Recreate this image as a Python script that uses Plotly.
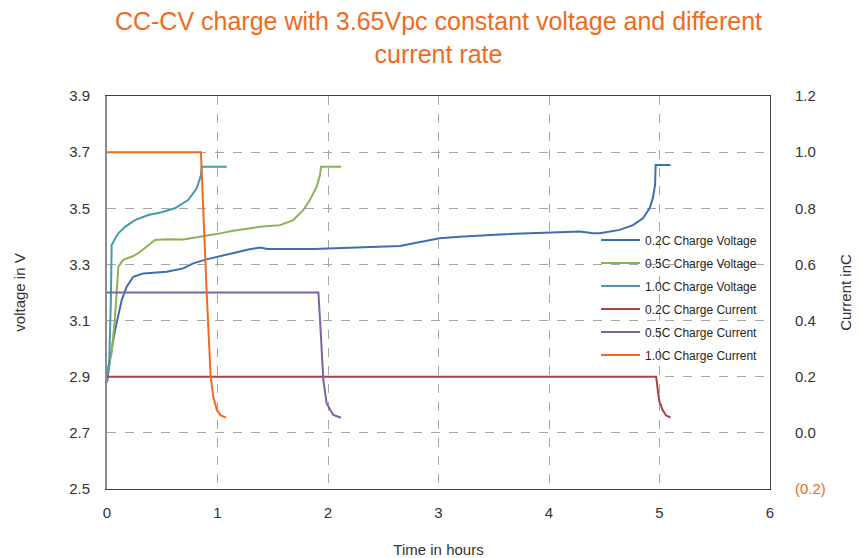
import plotly.graph_objects as go

# ---------------- data ----------------
# Voltage curves (time in hours, voltage in V)
t_v02 = [0, 0.03, 0.07, 0.10, 0.133, 0.178, 0.238, 0.329, 0.54, 0.69, 0.78, 0.90, 1.08, 1.29, 1.39, 1.45,
         1.87, 2.47, 2.65, 3.01, 3.19, 3.56, 4.01, 4.28, 4.40, 4.46, 4.64, 4.76, 4.85, 4.91, 4.94, 4.96, 4.965, 5.10]
v_02 = [2.88, 2.97, 3.06, 3.12, 3.173, 3.221, 3.256, 3.268, 3.274, 3.286, 3.304, 3.318, 3.334, 3.354, 3.360, 3.355,
        3.355, 3.363, 3.366, 3.393, 3.399, 3.407, 3.414, 3.417, 3.411, 3.411, 3.423, 3.440, 3.464, 3.500, 3.536, 3.583,
        3.654, 3.654]

t_v05 = [0, 0.04, 0.07, 0.081, 0.103, 0.148, 0.238, 0.283, 0.358, 0.434, 0.54, 0.69, 0.84, 0.99, 1.143, 1.29, 1.385,
         1.566, 1.686, 1.777, 1.837, 1.898, 1.928, 1.937, 2.118]
v_05 = [2.92, 2.98, 3.10, 3.173, 3.292, 3.316, 3.330, 3.340, 3.363, 3.387, 3.390, 3.389, 3.399, 3.408, 3.420, 3.429,
        3.434, 3.440, 3.458, 3.494, 3.530, 3.577, 3.619, 3.648, 3.648]

t_v10 = [0, 0.02, 0.035, 0.042, 0.07, 0.102, 0.163, 0.253, 0.374, 0.494, 0.615, 0.736, 0.812, 0.851, 0.857, 1.083]
v_10 = [2.88, 2.95, 3.17, 3.369, 3.390, 3.411, 3.434, 3.458, 3.476, 3.486, 3.500, 3.530, 3.571, 3.619, 3.648, 3.648]

# Current curves (time in hours, current in C)
t_c02 = [0, 4.97, 4.985, 5.0, 5.03, 5.06, 5.10]
c_02 = [0.2, 0.2, 0.15, 0.11, 0.08, 0.062, 0.054]

t_c05 = [0, 1.913, 1.928, 1.943, 1.958, 1.988, 2.048, 2.118]
c_05 = [0.5, 0.5, 0.402, 0.271, 0.188, 0.105, 0.064, 0.054]

t_c10 = [0, 0.85, 0.902, 0.938, 0.962, 0.993, 1.03, 1.077]
c_10 = [1.0, 1.0, 0.5, 0.2, 0.129, 0.082, 0.062, 0.054]

names = ["0.2C Charge Voltage", "0.5C Charge Voltage", "1.0C Charge Voltage",
         "0.2C Charge Current", "0.5C Charge Current", "1.0C Charge Current"]

v_ticks = [2.5, 2.7, 2.9, 3.1, 3.3, 3.5, 3.7, 3.9]
v_ticktext = ["2.5", "2.7", "2.9", "3.1", "3.3", "3.5", "3.7", "3.9"]
c_ticks = [-0.2, 0.0, 0.2, 0.4, 0.6, 0.8, 1.0, 1.2]
c_ticktext = ["<span style='color:#F26A1B'>(0.2)</span>", "0.0", "0.2", "0.4", "0.6", "0.8", "1.0", "1.2"]
x_ticks = [0, 1, 2, 3, 4, 5, 6]

# ---------------- styling ----------------
colors = ["#3E6DB5", "#8DB255", "#4799B0", "#A94440", "#7D63A0", "#F26A1B"]
FONT = "Liberation Sans, Arial, sans-serif"
TXT = "#333333"

fig = go.Figure()
series = [
    (t_v02, v_02, "y"), (t_v05, v_05, "y"), (t_v10, v_10, "y"),
    (t_c02, c_02, "y2"), (t_c05, c_05, "y2"), (t_c10, c_10, "y2"),
]
for i, (t, v, ax) in enumerate(series):
    fig.add_trace(go.Scatter(
        x=t, y=v, yaxis=ax, mode="lines", name=names[i],
        legendgroup=f"g{i}",
        line=dict(color=colors[i], width=2),
    ))

fig.update_layout(
    width=860, height=550,
    margin=dict(l=99, r=98, t=88, b=69),
    paper_bgcolor="white", plot_bgcolor="white",
    font=dict(family=FONT, color=TXT, size=14),
    title=dict(
        text="CC-CV charge with 3.65Vpc constant voltage and different<br>current rate",
        x=0.5, xref="paper", xanchor="center",
        y=0.96, yref="container", yanchor="top",
        font=dict(family=FONT, size=25, color="#F26A1B"),
    ),
    showlegend=True,
    legend=dict(
        x=0.7376, y=0.6705, xanchor="left", yanchor="top",
        bgcolor="rgba(0,0,0,0)", borderwidth=0,
        font=dict(family=FONT, size=12, color="#262626"),
        traceorder="grouped", tracegroupgap=4, itemwidth=39,
    ),
    xaxis=dict(
        range=[0, 6], tickvals=x_ticks, ticktext=[str(x) for x in x_ticks],
        showgrid=True, gridcolor="#A6A6A6", griddash="dash", gridwidth=1,
        showline=True, linecolor="#404040", linewidth=1, mirror=True,
        zeroline=False, ticks="", ticklabelstandoff=10,
        tickfont=dict(size=15, color=TXT),
        title=dict(text="Time in hours", font=dict(size=15, color=TXT), standoff=24),
        automargin=False,
    ),
    yaxis=dict(
        range=[2.5, 3.9], tickvals=v_ticks, ticktext=v_ticktext,
        showgrid=True, gridcolor="#A6A6A6", griddash="dash", gridwidth=1,
        showline=True, linecolor="#8C8C8C", linewidth=2,
        zeroline=False, ticks="", ticklabelstandoff=12,
        tickfont=dict(size=15, color=TXT),
        title=dict(text="voltage in V", font=dict(size=15, color=TXT), standoff=40),
        automargin=False,
    ),
    yaxis2=dict(
        range=[-0.2, 1.2], tickvals=c_ticks, ticktext=c_ticktext,
        overlaying="y", side="right",
        showgrid=False, zeroline=False,
        showline=True, linecolor="#404040", linewidth=1,
        ticks="", ticklabelstandoff=21,
        tickfont=dict(size=15, color=TXT),
        title=dict(text="Current inC", font=dict(size=15, color=TXT)),
        automargin=False,
    ),
)

fig.write_html("out.html")
